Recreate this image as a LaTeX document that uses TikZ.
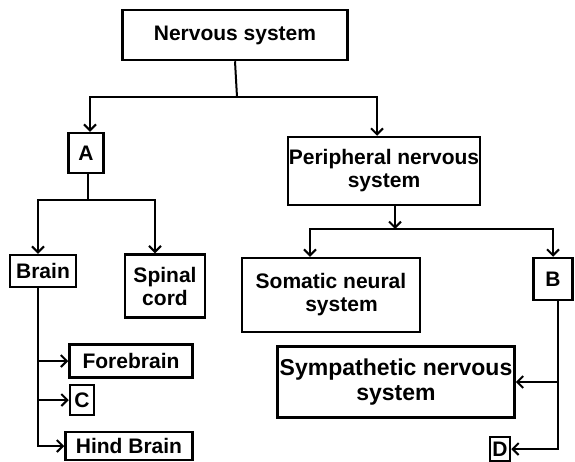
\documentclass[tikz,border=0pt]{standalone}
\usepackage{fontspec}
\setmainfont{Liberation Sans}
\usetikzlibrary{arrows.meta}

\begin{document}
\begin{tikzpicture}[x=1pt,y=-1pt]
        \tikzstyle{every node}=[font=\bfseries\fontsize{21}{23}\selectfont]
        \tikzstyle{box}=[draw, line width=2.5pt, inner sep=1pt, align=center]
        \tikzstyle{link}=[line width=2pt, -{Straight Barb[length=6pt,width=12pt,line width=2pt]}]
        \tikzstyle{wire}=[line width=2pt]
        \useasboundingbox (0,0) rectangle (575,461);

        % top level
        \node[box, minimum width=225, minimum height=50] (ns) at (235,35) {Nervous system};
        \node[box, minimum width=35, minimum height=40] (a) at (86,153) {A};
        \node[box, minimum width=192, minimum height=68] (pns) at (384,171) {Peripheral nervous\\system};

        % central side
        \node[box, minimum width=66, minimum height=32] (brain) at (43,271) {Brain};
        \node[box, minimum width=80, minimum height=63] (spinal) at (165,286) {Spinal\\cord};
        \node[box, minimum width=123, minimum height=33] (fore) at (131,361) {Forebrain};
        \node[box, minimum width=24, minimum height=30] (c) at (82,400) {C};
        \node[box, minimum width=127, minimum height=28] (hind) at (129,446) {Hind Brain};

        % peripheral side
        \node[box, minimum width=178, minimum height=74] (som) at (331,295) {Somatic neural\\\hspace*{1em}system};
        \node[box, minimum width=39, minimum height=42] (b) at (553,279) {B};
        \node[box, minimum width=237, minimum height=71, font=\bfseries\fontsize{23}{25}\selectfont] (sym) at (396,382) {Sympathetic nervous\\system};
        \node[box, minimum width=20, minimum height=24, inner sep=0pt] (d) at (500,449) {D};

        \coordinate (j1) at (237,97);
        \coordinate (j2) at (88,200);
        \coordinate (j3) at (395,229);

        \draw[wire] (ns.south) -- (j1);
        \draw[link] (j1) -| ([xshift=4]a.north);
        \draw[link] (j1) -| ([xshift=-7]pns.north);

        \draw[wire] ([xshift=2]a.south) -- (j2);
        \draw[link] (j2) -| ([xshift=-5]brain.north);
        \draw[link] (j2) -| ([xshift=-10]spinal.north);
        \foreach \t in {fore,c,hind}{
            \draw[link] ([xshift=-5]brain.south) |- (\t.west);
        }

        \draw[link] ([xshift=11]pns.south) -- (j3);
        \draw[link] (j3) -| ([xshift=-21]som.north);
        \draw[link] (j3) -| (b.north);
        \foreach \t in {sym,d}{
            \draw[link] ([xshift=5]b.south) |- (\t.east);
        }
\end{tikzpicture}
\end{document}
